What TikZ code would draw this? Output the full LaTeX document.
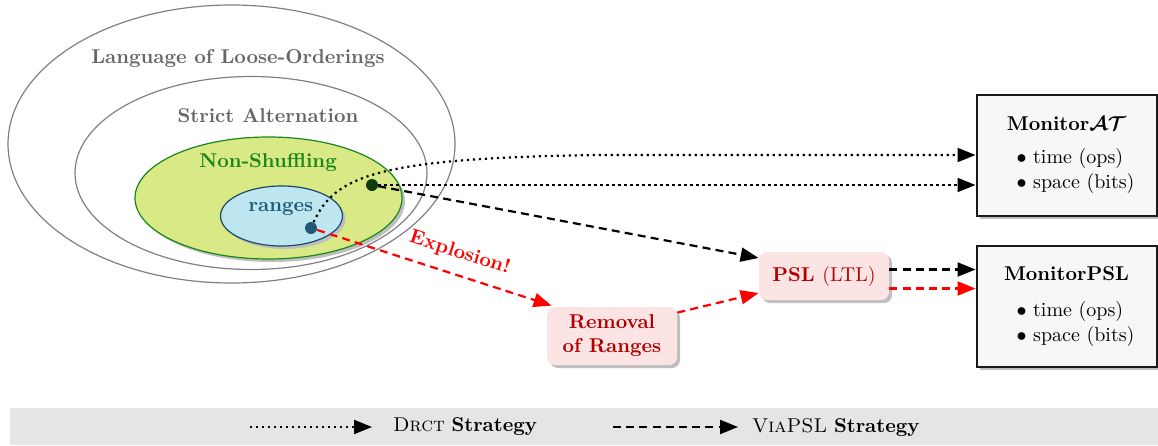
\documentclass[tikz,border=0pt]{standalone}
\usetikzlibrary{shapes.geometric,shadows,arrows.meta,calc}
\definecolor{nsfill}{HTML}{D9E986}
\definecolor{nsdraw}{HTML}{1A861A}
\definecolor{rgfill}{HTML}{BDE6F0}
\definecolor{rgdraw}{HTML}{1A4B63}
\definecolor{rgtext}{HTML}{1E5A75}
\definecolor{nsdot}{HTML}{0B3D0B}
\definecolor{pinkfill}{HTML}{FDE4E4}
\definecolor{darkred}{HTML}{B00000}
\definecolor{bandgray}{HTML}{E5E5E5}
\definecolor{boxfill}{HTML}{F7F7F7}
\newcommand{\bulletlist}{\hspace*{9pt}{\def\arraystretch{1.05}\begin{tabular}{@{}l@{}}$\bullet$ time (ops)\\ $\bullet$ space (bits)\end{tabular}}}
\begin{document}
\begin{tikzpicture}[x=0.5pt,y=-0.5pt,
  setell/.style={ellipse, draw=black!50, line width=0.6pt, inner sep=0pt},
  setlbl/.style={font=\bfseries, text=black!60},
  shad/.style={drop shadow={shadow xshift=1.5pt, shadow yshift=-1.5pt, fill=black!25, opacity=1}},
  monbox/.style={draw=black!90, line width=1pt, fill=boxfill, minimum width=90pt, minimum height=60.5pt, align=center, shad},
  procbox/.style={rounded corners=4pt, fill=pinkfill, text=darkred, font=\bfseries, minimum width=65pt, align=center, inner sep=0pt, shad},
  dotdot/.style={dash pattern=on 1.1pt off 1.9pt, line width=1.1pt},
  dashdash/.style={dash pattern=on 4pt off 2.6pt, line width=1.1pt},
  tip/.style={-{Triangle[length=9pt,width=7pt]}},
  dotarr/.style={dotdot, tip},
  dasharr/.style={dashdash, tip},
  dotnode/.style={circle, inner sep=0pt, minimum size=6pt}
]
\useasboundingbox (0,0) rectangle (1158,445);
% legend band
\fill[bandgray] (10,408) rectangle (1158,445);

% set ellipses
\node[setell, minimum width=223.5pt, minimum height=139pt] (lang) at (231.5,144) {};
\node[setlbl] (langlbl) at (238,59) {Language of Loose-Orderings};
\node[setell, minimum width=176pt, minimum height=96.5pt] (strict) at (251,173) {};
\node[setlbl] (strictlbl) at (268,116) {Strict Alternation};
\node[setell, draw=nsdraw, fill=nsfill, minimum width=133.5pt, minimum height=61pt, shad] (ns) at (268.5,198) {};
\node[font=\bfseries, text=nsdraw] (nslbl) at (268,162.5) {Non-Shuffling};
\node[setell, draw=rgdraw, fill=rgfill, minimum width=61pt, minimum height=30pt, shad] (rng) at (281.5,216) {};
\node[font=\bfseries, text=rgtext] (rnglbl) at (281,209) {ranges};

% monitor boxes
\node[monbox] (at) at (1066.5,155) {\raisebox{-4.75pt}{\begin{tabular}{@{}c@{}}\textbf{Monitor}{\boldmath$\mathcal{AT}$}\\[4pt]\bulletlist\end{tabular}}};
\node[monbox] (mpsl) at (1066.5,306.5) {\raisebox{-5pt}{\begin{tabular}{@{}c@{}}\textbf{MonitorPSL}\\[5.5pt]\bulletlist\end{tabular}}};

% process boxes
\node[procbox, minimum height=24pt] (psl) at (824,276) {PSL \textmd{(LTL)}};
\node[procbox, minimum height=29pt] (rem) at (612,336) {Removal\\of Ranges};

% dots
\node[dotnode, fill=rgtext] (d1) at (311,228) {};
\node[dotnode, fill=nsdot] (d2) at (372,185) {};

% connectors
\coordinate (atmid) at (600,155);
\draw[dotarr] (d1) .. controls (335,175) and (380,158) .. (atmid) -- (at.west);
\draw[dotarr] (d2) -- (d2 -| at.west);
\coordinate (pslin) at ($(psl.west)+(0,-18)$);
\draw[dasharr] (d2) -- (pslin);
\coordinate (remin) at ($(rem.north west)+(5,-1)$);
\draw[dasharr, red] (d1) -- node[pos=0.58, sloped, above=2.5pt, font=\bfseries, text=red] (expl) {Explosion!} (remin);
\coordinate (remout) at ($(rem.north east)+(0,6)$);
\coordinate (pslin2) at ($(psl.west)+(0,17)$);
\draw[dasharr, red] (remout) -- (pslin2);
\coordinate (pslo1) at ($(psl.east)+(0,-6.5)$);
\coordinate (pslo2) at ($(psl.east)+(0,12.5)$);
\draw[dasharr] (pslo1) -- (pslo1 -| mpsl.west);
\draw[dasharr, red] (pslo2) -- (pslo2 -| mpsl.west);

% legend
\coordinate (l1s) at (250,427);
\coordinate (l1e) at (372,427);
\draw[dotarr] (l1s) -- (l1e);
\node[anchor=west] (l1t) at (386,427) {\textsc{Drct} \textbf{Strategy}};
\coordinate (l2s) at (613,427);
\coordinate (l2e) at (738,427);
\draw[dasharr] (l2s) -- (l2e);
\node[anchor=west] (l2t) at (745,427) {\textsc{ViaPSL} \textbf{Strategy}};
\end{tikzpicture}
\end{document}
